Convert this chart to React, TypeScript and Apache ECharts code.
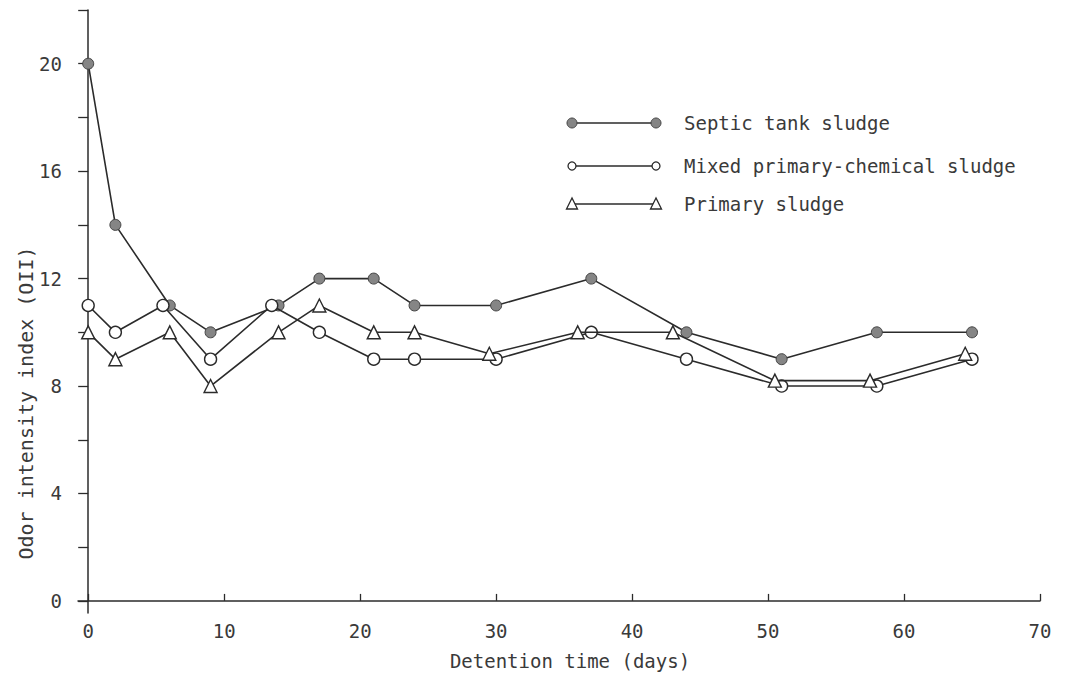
import React, { useEffect, useRef } from "react";
import * as echarts from "echarts";

// Detention time (days)
const septicDays = [0, 2, 6, 9, 14, 17, 21, 24, 30, 37, 44, 51, 58, 65];
const septicOII = [20, 14, 11, 10, 11, 12, 12, 11, 11, 12, 10, 9, 10, 10];

const mixedDays = [0, 2, 5.5, 9, 13.5, 17, 21, 24, 30, 37, 44, 51, 58, 65];
const mixedOII = [11, 10, 11, 9, 11, 10, 9, 9, 9, 10, 9, 8, 8, 9];

const primaryDays = [0, 2, 6, 9, 14, 17, 21, 24, 29.5, 36, 43, 50.5, 57.5, 64.5];
const primaryOII = [10, 9, 10, 8, 10, 11, 10, 10, 9.2, 10, 10, 8.2, 8.2, 9.2];

const xTickValues = [0, 10, 20, 30, 40, 50, 60, 70];
const yTickValues = [0, 2, 4, 6, 8, 10, 12, 14, 16, 18, 20, 22];
const yLabelValues = [0, 4, 8, 12, 16, 20];

const seriesNames = [
  "Septic tank sludge",
  "Mixed primary-chemical sludge",
  "Primary sludge",
];

const FONT = "DejaVu Sans Mono";
const INK = "#2b2b2b";
const TXT = "#3a3a3a";

function pairs(xs: number[], ys: number[]) {
  return xs.map((x, i) => [x, ys[i]]);
}

export default function App() {
  const ref = useRef<HTMLDivElement>(null);

  useEffect(() => {
    if (!ref.current) return;
    const chart = echarts.init(ref.current, null, { renderer: "svg" });

    const legendRows = [
      { y: 123, kind: "filled" },
      { y: 166, kind: "open" },
      { y: 204, kind: "tri" },
    ];
    const legendGraphics: any[] = [];
    legendRows.forEach((row, i) => {
      const x1 = 572;
      const x2 = 656;
      legendGraphics.push({
        type: "line",
        shape: { x1, y1: row.y, x2, y2: row.y },
        style: { stroke: INK, lineWidth: 1.5 },
      });
      [x1, x2].forEach((cx) => {
        if (row.kind === "filled") {
          legendGraphics.push({
            type: "circle",
            shape: { cx, cy: row.y, r: 5 },
            style: { fill: "#858585", stroke: "#444", lineWidth: 1 },
          });
        } else if (row.kind === "open") {
          legendGraphics.push({
            type: "circle",
            shape: { cx, cy: row.y, r: 4 },
            style: { fill: "#fff", stroke: INK, lineWidth: 1.3 },
          });
        } else {
          legendGraphics.push({
            type: "polygon",
            shape: {
              points: [
                [cx, row.y - 6],
                [cx - 5.5, row.y + 5],
                [cx + 5.5, row.y + 5],
              ],
            },
            style: { fill: "#fff", stroke: INK, lineWidth: 1.3 },
          });
        }
      });
      legendGraphics.push({
        type: "text",
        x: 684,
        y: row.y,
        style: {
          text: seriesNames[i],
          font: `19px "${FONT}"`,
          fill: TXT,
          verticalAlign: "middle",
          align: "left",
        },
      });
    });

    const option: any = {
      animation: false,
      backgroundColor: "#ffffff",
      grid: { left: 78, right: 37, top: 10, bottom: 64, containLabel: false },
      xAxis: {
        type: "value",
        min: -0.75,
        max: 70,
        axisLine: { show: true, onZero: true, lineStyle: { color: INK, width: 1.5 } },
        axisTick: {
          show: true,
          inside: true,
          length: 7,
          customValues: xTickValues,
          lineStyle: { color: INK, width: 1.3 },
        },
        axisLabel: {
          customValues: xTickValues,
          margin: 8,
          fontFamily: FONT,
          fontSize: 19,
          color: TXT,
        },
        splitLine: { show: false },
      },
      yAxis: {
        type: "value",
        min: -0.45,
        max: 22,
        axisLine: { show: true, onZero: true, lineStyle: { color: INK, width: 1.5 } },
        axisTick: {
          show: true,
          inside: false,
          length: 10,
          customValues: yTickValues,
          lineStyle: { color: INK, width: 1.3 },
        },
        axisLabel: {
          customValues: yLabelValues,
          margin: 16,
          fontFamily: FONT,
          fontSize: 19,
          color: TXT,
        },
        splitLine: { show: false },
      },
      graphic: [
        {
          type: "text",
          x: 26,
          y: 403,
          rotation: Math.PI / 2,
          style: {
            text: "Odor intensity index (OII)",
            font: `20px "${FONT}"`,
            fill: TXT,
            align: "center",
            verticalAlign: "middle",
          },
        },
        {
          type: "text",
          x: 570,
          y: 661,
          style: {
            text: "Detention time (days)",
            font: `19px "${FONT}"`,
            fill: TXT,
            align: "center",
            verticalAlign: "middle",
          },
        },
        ...legendGraphics,
      ],
      series: [
        {
          name: seriesNames[0],
          type: "line",
          data: pairs(septicDays, septicOII),
          symbol: "circle",
          symbolSize: 11,
          showAllSymbol: true,
          lineStyle: { color: INK, width: 1.6 },
          itemStyle: { color: "#858585", borderColor: "#444", borderWidth: 1 },
          z: 2,
        },
        {
          name: seriesNames[1],
          type: "line",
          data: pairs(mixedDays, mixedOII),
          symbol: "circle",
          symbolSize: 12,
          showAllSymbol: true,
          lineStyle: { color: INK, width: 1.6 },
          itemStyle: { color: "#ffffff", borderColor: INK, borderWidth: 1.4 },
          z: 3,
        },
        {
          name: seriesNames[2],
          type: "line",
          data: pairs(primaryDays, primaryOII),
          symbol: "triangle",
          symbolSize: [13, 13],
          showAllSymbol: true,
          lineStyle: { color: INK, width: 1.6 },
          itemStyle: { color: "#ffffff", borderColor: INK, borderWidth: 1.4 },
          z: 4,
        },
      ],
    };

    chart.setOption(option);
    return () => chart.dispose();
  }, []);

  return (
    <div
      ref={ref}
      style={{
        position: "fixed",
        left: 0,
        top: 0,
        width: 1077,
        height: 677,
        background: "#fff",
      }}
    />
  );
}
